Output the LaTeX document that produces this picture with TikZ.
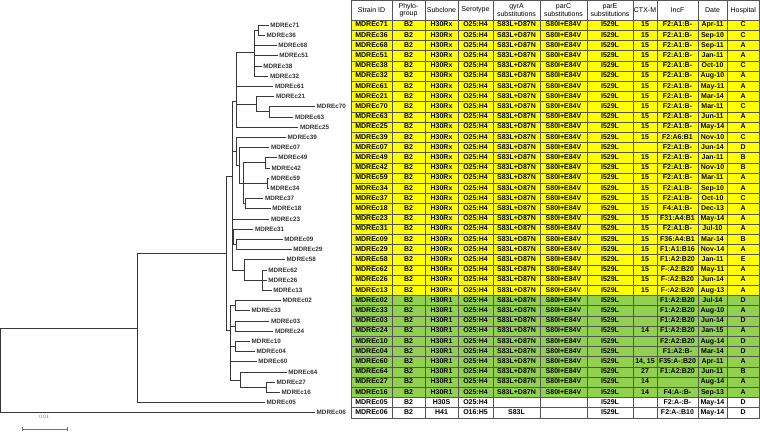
\documentclass[tikz,border=0pt]{standalone}
\usepackage{fontspec}
\setmainfont{Liberation Sans}
\usepackage{xcolor}
\usetikzlibrary{arrows.meta}
\definecolor{rxyellow}{RGB}{255,255,0}
\definecolor{rgreen}{RGB}{146,208,80}
\definecolor{gridgray}{RGB}{85,85,85}

\begin{document}
\begin{tikzpicture}[
    x=1pt, y=-1pt,
    branch/.style={draw=black!78, line width=0.75pt},
    leaf/.style={anchor=west, inner sep=1.5pt, font=\fontsize{6.3}{7}\selectfont\bfseries, text=black!80},
    head/.style={inner sep=0pt, align=center, font=\fontsize{7}{7.8}\selectfont},
    cell/.style={inner sep=0pt, text height=5.1pt, text depth=1.4pt, font=\fontsize{7}{8}\selectfont\bfseries},
    rule/.style={draw=gridgray, line width=0.5pt},
    scalebar/.style={draw=black!55, line width=0.6pt, {Bar[width=4pt]}-{Bar[width=4pt]}}
]
\useasboundingbox (0,0) rectangle (760,431);

% Header
\fill[white] (351,0.5) rectangle (759.5,20);
\foreach \xh/\t [count=\k] in {371.5/Strain ID, 408.5/Phylo-\\group, 441.5/Subclone, 475.5/Serotype,
    516.5/gyrA\\substitutions, 563.5/parC\\substitutions, 610/parE\\substitutions,
    645/CTX-M, 677.5/IncF, 712.5/Date, 743.25/Hospital}
    \node[head] (h\k) at (\xh,10.25) {\t};

% Table rows
\foreach \r/\tint/\sid/\sub/\sero/\gyr/\parc/\ctx/\inc/\dt/\hosp in {
    1/rxyellow/71/H30Rx/O25:H4/S83L+D87N/S80I+E84V/15/F2:A1:B-/Apr-11/C,
    2/rxyellow/36/H30Rx/O25:H4/S83L+D87N/S80I+E84V/15/F2:A1:B-/Sep-10/C,
    3/rxyellow/68/H30Rx/O25:H4/S83L+D87N/S80I+E84V/15/F2:A1:B-/Sep-11/A,
    4/rxyellow/51/H30Rx/O25:H4/S83L+D87N/S80I+E84V/15/F2:A1:B-/Jan-11/A,
    5/rxyellow/38/H30Rx/O25:H4/S83L+D87N/S80I+E84V/15/F2:A1:B-/Oct-10/C,
    6/rxyellow/32/H30Rx/O25:H4/S83L+D87N/S80I+E84V/15/F2:A1:B-/Aug-10/A,
    7/rxyellow/61/H30Rx/O25:H4/S83L+D87N/S80I+E84V/15/F2:A1:B-/May-11/A,
    8/rxyellow/21/H30Rx/O25:H4/S83L+D87N/S80I+E84V/15/F2:A1:B-/Mar-14/A,
    9/rxyellow/70/H30Rx/O25:H4/S83L+D87N/S80I+E84V/15/F2:A1:B-/Mar-11/C,
    10/rxyellow/63/H30Rx/O25:H4/S83L+D87N/S80I+E84V/15/F2:A1:B-/Jun-11/A,
    11/rxyellow/25/H30Rx/O25:H4/S83L+D87N/S80I+E84V/15/F2:A1:B-/May-14/A,
    12/rxyellow/39/H30Rx/O25:H4/S83L+D87N/S80I+E84V/15/F2:A6:B1/Nov-10/C,
    13/rxyellow/07/H30Rx/O25:H4/S83L+D87N/S80I+E84V//F2:A1:B-/Jun-14/D,
    14/rxyellow/49/H30Rx/O25:H4/S83L+D87N/S80I+E84V/15/F2:A1:B-/Jan-11/B,
    15/rxyellow/42/H30Rx/O25:H4/S83L+D87N/S80I+E84V/15/F2:A1:B-/Nov-10/B,
    16/rxyellow/59/H30Rx/O25:H4/S83L+D87N/S80I+E84V/15/F2:A1:B-/Mar-11/A,
    17/rxyellow/34/H30Rx/O25:H4/S83L+D87N/S80I+E84V/15/F2:A1:B-/Sep-10/A,
    18/rxyellow/37/H30Rx/O25:H4/S83L+D87N/S80I+E84V/15/F2:A1:B-/Oct-10/C,
    19/rxyellow/18/H30Rx/O25:H4/S83L+D87N/S80I+E84V/15/F4:A1:B-/Dec-13/A,
    20/rxyellow/23/H30Rx/O25:H4/S83L+D87N/S80I+E84V/15/F31:A4:B1/May-14/A,
    21/rxyellow/31/H30Rx/O25:H4/S83L+D87N/S80I+E84V/15/F2:A1:B-/Jul-10/A,
    22/rxyellow/09/H30Rx/O25:H4/S83L+D87N/S80I+E84V/15/F36:A4:B1/Mar-14/B,
    23/rxyellow/29/H30Rx/O25:H4/S83L+D87N/S80I+E84V/15/F1:A1:B16/Nov-14/A,
    24/rxyellow/58/H30Rx/O25:H4/S83L+D87N/S80I+E84V/15/F1:A2:B20/Jan-11/E,
    25/rxyellow/62/H30Rx/O25:H4/S83L+D87N/S80I+E84V/15/F-:A2:B20/May-11/A,
    26/rxyellow/26/H30Rx/O25:H4/S83L+D87N/S80I+E84V/15/F-:A2:B20/Jun-14/A,
    27/rxyellow/13/H30Rx/O25:H4/S83L+D87N/S80I+E84V/15/F-:A2:B20/Aug-13/A,
    28/rgreen/02/H30R1/O25:H4/S83L+D87N/S80I+E84V//F1:A2:B20/Jul-14/D,
    29/rgreen/33/H30R1/O25:H4/S83L+D87N/S80I+E84V//F1:A2:B20/Aug-10/A,
    30/rgreen/03/H30R1/O25:H4/S83L+D87N/S80I+E84V//F1:A2:B20/Jun-14/D,
    31/rgreen/24/H30R1/O25:H4/S83L+D87N/S80I+E84V/14/F1:A2:B20/Jan-15/A,
    32/rgreen/10/H30R1/O25:H4/S83L+D87N/S80I+E84V//F2:A2:B20/Aug-14/D,
    33/rgreen/04/H30R1/O25:H4/S83L+D87N/S80I+E84V//F1:A2:B-/Mar-14/D,
    34/rgreen/60/H30R1/O25:H4/S83L+D87N/S80I+E84V/14{,} 15/F35:A-:B20/Apr-11/A,
    35/rgreen/64/H30R1/O25:H4/S83L+D87N/S80I+E84V/27/F1:A2:B20/Jun-11/B,
    36/rgreen/27/H30R1/O25:H4/S83L+D87N/S80I+E84V/14//Aug-14/A,
    37/rgreen/16/H30R1/O25:H4/S83L+D87N/S80I+E84V/14/F4:A-:B-/Sep-13/A,
    38/white/05/H30S/O25:H4////F2:A-:B-/May-14/D,
    39/white/06/H41/O16:H5/S83L///F2:A-:B10/May-14/D}{
    \pgfmathsetmacro\yc{14.9+10.2*\r}
    \fill[\tint] (351,\yc-5.1) rectangle (759.5,\yc+5.1);
    \foreach \v [count=\k] in {MDREc\sid, B2, \sub, \sero, \gyr, \parc, I529L, \ctx, \inc, \dt, \hosp}
        \node[cell] (r\r-\k) at (h\k |- 0,\yc) {\v};
}

% Grid
\foreach \xl in {351,392,425,458,493,540,587,633,657,698,727,759.5}
    \draw[rule] (\xl,0.5) -- (\xl,417.8);
\draw[rule] (351,0.5) -- (759.5,0.5);
\foreach \r in {0,...,39}
    \draw[rule] (351,{20+10.2*\r}) -- (759.5,{20+10.2*\r});

% Tree leaves
\foreach \r/\sid/\xe in {1/71/268.7, 2/36/265, 3/68/276.7, 4/51/277.7, 5/38/261.7, 6/32/268.3,
    7/61/273.3, 8/21/274.3, 9/70/315, 10/63/293.3, 11/25/298.3, 12/39/286, 13/07/269.3,
    14/49/276.7, 15/42/270, 16/59/269.3, 17/34/268.7, 18/37/263.3, 19/18/270.7, 20/23/269.3,
    21/31/253.3, 22/09/282.7, 23/29/291.7, 24/58/285, 25/62/266.7, 26/26/266.7, 27/13/271.7,
    28/02/281, 29/33/250, 30/03/269.3, 31/24/273.3, 32/10/250, 33/04/255, 34/60/256.7,
    35/64/286.7, 36/27/275, 37/16/280, 38/05/265, 39/06/315}
    \node[leaf] (l\sid) at (\xe,{14.9+10.2*\r}) {MDREc\sid};

% Tree inner nodes
\coordinate (root) at (0.8,370);
\coordinate (n0) at (137.7,328.3);
\coordinate (n1) at (226.7,253.3);
\coordinate (rx) at (232.3,176);
\coordinate (rxa) at (236.7,101.7);
\coordinate (rxa1) at (254.3,52.5);
\coordinate (rxa2) at (258.7,30.2);
\coordinate (rxa3) at (256,104.2);
\coordinate (rxa4) at (269.3,111.8);
\coordinate (rxb) at (236,151.7);
\coordinate (rxb1) at (239.3,165);
\coordinate (rxb2) at (243.3,183.2);
\coordinate (rxb3) at (265.5,162.8);
\coordinate (rxb4) at (267.7,183.2);
\coordinate (rxb5) at (245.7,203.6);
\coordinate (rxc) at (233.5,237);
\coordinate (rxc1) at (236,244.4);
\coordinate (rxd) at (244.3,270);
\coordinate (rxd1) at (262.7,280.1);
\coordinate (r1) at (230,330);
\coordinate (r1a) at (235,305.6);
\coordinate (r1b) at (235.7,326);
\coordinate (r1c) at (235.7,346.4);
\coordinate (r1d) at (240,380);
\coordinate (r1d1) at (266.7,387.2);

% Branches
\foreach \p/\q in {root/n0, root/l06, n0/n1, n0/l05, n1/rx, n1/r1,
    rx/rxa, rx/rxb, rx/l23, rx/rxc, rx/rxd,
    rxa/rxa1, rxa/l61, rxa/rxa3, rxa/l25,
    rxa1/rxa2, rxa1/l68, rxa1/l51, rxa1/l38, rxa1/l32,
    rxa2/l71, rxa2/l36, rxa3/l21, rxa3/rxa4, rxa4/l70, rxa4/l63,
    rxb/l39, rxb/rxb1, rxb1/l07, rxb1/rxb2, rxb2/rxb3, rxb2/rxb4, rxb2/rxb5,
    rxb3/l49, rxb3/l42, rxb4/l59, rxb4/l34, rxb5/l37, rxb5/l18,
    rxc/l31, rxc/rxc1, rxc1/l09, rxc1/l29,
    rxd/l58, rxd/rxd1, rxd1/l62, rxd1/l26, rxd1/l13,
    r1/r1a, r1/r1b, r1/r1c, r1/l60, r1/r1d,
    r1a/l02, r1a/l33, r1b/l03, r1b/l24, r1c/l10, r1c/l04,
    r1d/l64, r1d/r1d1, r1d1/l27, r1d1/l16}
    \draw[branch] (\p) |- (\q);

% Scale bar
\node[font=\fontsize{5}{6}\selectfont, text=black!50] (sbtxt) at (44,417) {0.01};
\coordinate (sbl) at (22.3,429);
\coordinate (sbr) at (67.7,429);
\draw[scalebar] (sbl) -- (sbr);

\end{tikzpicture}
\end{document}
